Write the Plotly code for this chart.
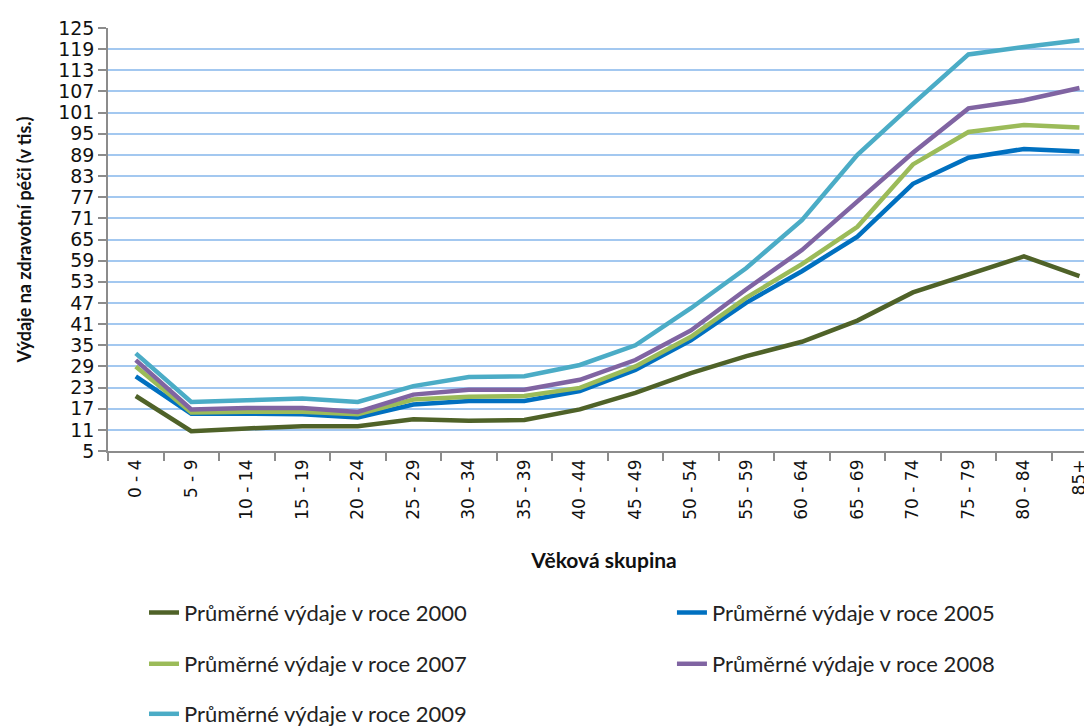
import plotly.graph_objects as go

categories = ["0 - 4", "5 - 9", "10 - 14", "15 - 19", "20 - 24", "25 - 29", "30 - 34",
              "35 - 39", "40 - 44", "45 - 49", "50 - 54", "55 - 59", "60 - 64", "65 - 69",
              "70 - 74", "75 - 79", "80 - 84", "85+"]

vydaje_2000 = [20.6, 10.6, 11.4, 12.0, 12.0, 14.0, 13.6, 13.8, 16.8, 21.5, 27.1, 31.9,
               36.0, 42.0, 50.0, 55.1, 60.2, 54.6]
vydaje_2005 = [26.2, 15.6, 15.6, 15.4, 14.5, 18.2, 19.2, 19.2, 22.0, 28.0, 36.4, 47.1,
               56.0, 65.8, 80.8, 88.2, 90.7, 90.0]
vydaje_2007 = [29.0, 15.9, 16.1, 16.1, 15.4, 19.6, 20.4, 20.6, 22.9, 29.0, 37.4, 48.5,
               58.0, 68.6, 86.3, 95.5, 97.5, 96.8]
vydaje_2008 = [30.8, 16.8, 17.2, 17.2, 16.1, 21.0, 22.4, 22.4, 25.2, 30.8, 39.2, 50.9,
               62.0, 75.8, 89.6, 102.2, 104.5, 108.0]
vydaje_2009 = [32.7, 18.9, 19.4, 19.9, 18.9, 23.4, 26.0, 26.2, 29.4, 35.0, 45.5, 56.9,
               70.5, 89.0, 103.5, 117.5, 119.6, 121.5]

series_names = ["Průměrné výdaje v roce 2000", "Průměrné výdaje v roce 2005",
                "Průměrné výdaje v roce 2007", "Průměrné výdaje v roce 2008",
                "Průměrné výdaje v roce 2009"]
series_values = [vydaje_2000, vydaje_2005, vydaje_2007, vydaje_2008, vydaje_2009]
colors = ["#4F6228", "#0070C0", "#9BBB59", "#8064A2", "#4BACC6"]
legend_ids = ["legend", "legend2", "legend3", "legend4", "legend5"]

y_ticks = list(range(5, 126, 6))

fig = go.Figure()
for name, vals, col, lg in zip(series_names, series_values, colors, legend_ids):
    fig.add_trace(go.Scatter(x=categories, y=vals, name=name, mode="lines",
                             line=dict(color=col, width=4.5), legend=lg))

legend_common = dict(orientation="h", xanchor="left", yanchor="middle",
                     font=dict(family="Lato", size=22, color="#222222"),
                     bgcolor="rgba(0,0,0,0)", itemclick=False)

col1_x, col2_x = 0.0363, 0.5685
row_y = [-0.3823, -0.5035, -0.6224]

fig.update_layout(
    width=1092, height=727,
    margin=dict(l=100, r=0, t=20, b=278),
    paper_bgcolor="white", plot_bgcolor="white",
    showlegend=True,
    legend=dict(x=col1_x, y=row_y[0], **legend_common),
    legend2=dict(x=col2_x, y=row_y[0], **legend_common),
    legend3=dict(x=col1_x, y=row_y[1], **legend_common),
    legend4=dict(x=col2_x, y=row_y[1], **legend_common),
    legend5=dict(x=col1_x, y=row_y[2], **legend_common),
    xaxis=dict(
        type="category", range=[-0.5, 17.37],
        tickangle=-90, tickson="boundaries", ticks="outside", ticklen=8,
        tickcolor="#8C8C8C", tickwidth=1.5,
        showline=True, linecolor="#8C8C8C", linewidth=1.5,
        showgrid=False,
        tickfont=dict(family="DejaVu Sans", size=17, color="#111111"),
        title=dict(text="<b>Věková skupina</b>", standoff=35,
                   font=dict(family="Lato", size=21, color="#111111")),
        automargin=False,
    ),
    yaxis=dict(
        range=[5, 125], tickmode="array", tickvals=y_ticks,
        ticks="outside", ticklen=8, tickcolor="#8C8C8C", tickwidth=1.5,
        showline=True, linecolor="#8C8C8C", linewidth=1.5,
        showgrid=True, gridcolor="#A3C8F0", gridwidth=1.5,
        zeroline=False,
        tickfont=dict(family="DejaVu Sans", size=19, color="#111111"),
        title=dict(text="<b>Výdaje na zdravotní péči (v tis.)</b>", standoff=22,
                   font=dict(family="Lato", size=18, color="#111111")),
        automargin=False,
    ),
)

fig.write_html("out.html")
